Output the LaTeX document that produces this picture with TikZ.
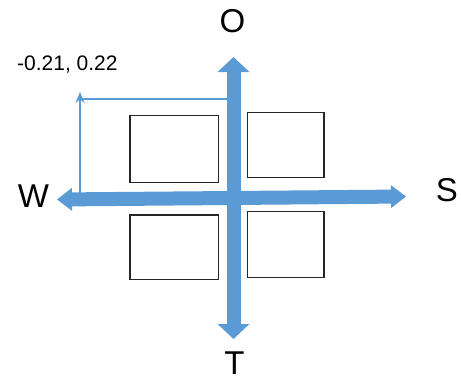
\documentclass[tikz,border=0pt]{standalone}
\usepackage{fontspec}
\setmainfont{Liberation Sans}
\usetikzlibrary{arrows.meta}
\definecolor{axblue}{RGB}{91,155,213}

\begin{document}
\begin{tikzpicture}[x=1pt,y=-1pt,
  lbl/.style={font=\fontsize{33}{36}\selectfont,anchor=base,inner sep=0pt},
  b/.style={draw=black!85,line width=1.3pt,inner sep=0pt},
  ax/.style={axblue,line width=14pt},
  thinax/.style={axblue,line width=1.4pt}]
\useasboundingbox (0,0) rectangle (461,380);
\node[lbl] (o) at (232.5,32.3) {O};
\node[lbl] (w) at (33.5,207) {W};
\node[lbl] (s) at (447,201.7) {S};
\node[lbl] (t) at (234.5,374.5) {T};
\node[anchor=base west,inner sep=0pt,font=\fontsize{21}{24}\selectfont] (val) at (17,70.7) {-0.21,~0.22};
\node[b,minimum width=88.7pt,minimum height=66.6pt] (nw) at (174.3,149) {};
\node[b,minimum width=76.7pt,minimum height=64.6pt] (ne) at (285.7,145) {};
\node[b,minimum width=88.7pt,minimum height=64.3pt] (sw) at (174.3,247.2) {};
\node[b,minimum width=76.7pt,minimum height=65.6pt] (se) at (285.7,244.5) {};
\coordinate (ot) at (233.5,57);
\coordinate (tb) at (233.5,339);
\coordinate (wl) at (57,199.5);
\coordinate (sr) at (406,196.5);
\coordinate (cx) at (80,99);
\coordinate (cy) at (229,99);
\coordinate (pt) at (80,92);
\coordinate (py) at (80,198);
\draw[thinax] (cy) -- (cx);
\draw[thinax,-{Stealth[length=11pt,width=9pt]}] (py) -- (pt);
\draw[ax,{Triangle[width=22pt,length=15pt]}-{Triangle[width=22pt,length=15pt]}] (wl) -- (sr);
\draw[ax,{Triangle[width=31pt,length=15pt]}-{Triangle[width=31pt,length=15pt]}] (tb) -- (ot);
\end{tikzpicture}
\end{document}
